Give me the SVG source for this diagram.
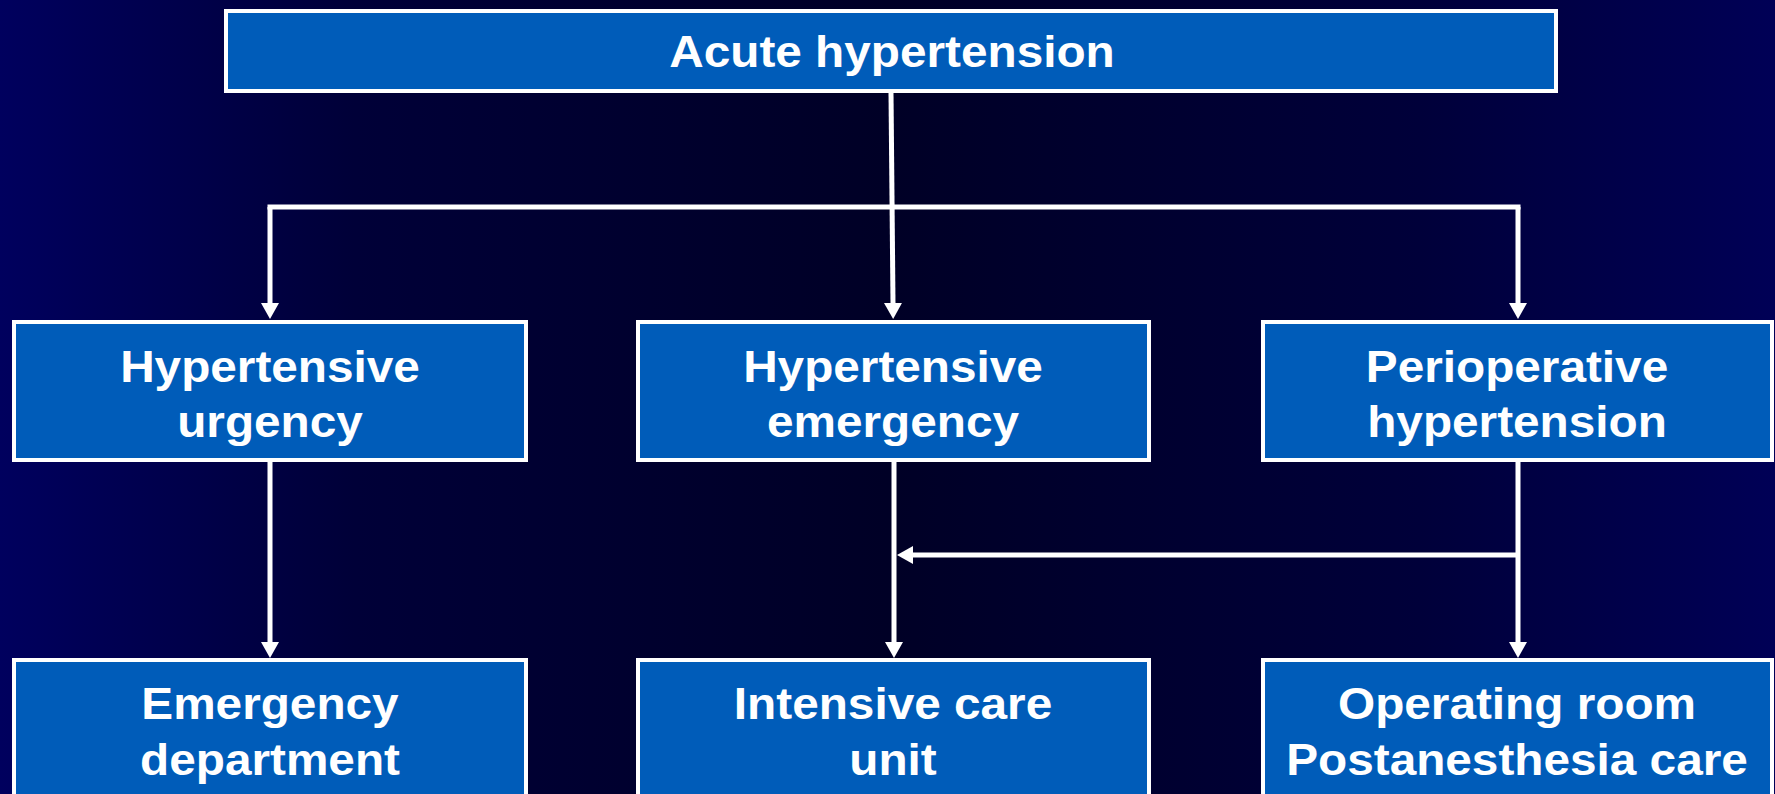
<svg xmlns="http://www.w3.org/2000/svg" width="1775" height="794" viewBox="0 0 1775 794">
<defs>
<linearGradient id="bg" x1="0" y1="0" x2="1" y2="0">
<stop offset="0" stop-color="#00005e"/>
<stop offset="0.2" stop-color="#000038"/>
<stop offset="0.5" stop-color="#000026"/>
<stop offset="0.8" stop-color="#00003a"/>
<stop offset="1" stop-color="#000056"/>
</linearGradient>
<marker id="ah" markerUnits="userSpaceOnUse" markerWidth="16" markerHeight="18" refX="0" refY="9" orient="auto">
<path d="M0,0 L16,9 L0,18 z" fill="#ffffff"/>
</marker>
<style>
.box{fill:#005cb9;stroke:#ffffff;stroke-width:4}
.t{font-family:"Liberation Sans",Arial,sans-serif;font-weight:bold;font-size:44px;fill:#ffffff;text-anchor:middle}
.c{stroke:#ffffff;stroke-width:5;fill:none}
</style>
</defs>
<rect width="1775" height="794" fill="url(#bg)"/>
<g id="connectors">
<path class="c" d="M891,93 L893,303" marker-end="url(#ah)"/>
<path class="c" d="M270,207 L1518,207" stroke-linecap="square"/>
<path class="c" d="M270,207 L270,303" marker-end="url(#ah)"/>
<path class="c" d="M1518,207 L1518,303" marker-end="url(#ah)"/>
<path class="c" d="M270,462 L270,642" marker-end="url(#ah)"/>
<path class="c" d="M894,462 L894,642" marker-end="url(#ah)"/>
<path class="c" d="M1518,462 L1518,642" marker-end="url(#ah)"/>
<path class="c" d="M1518,555 L913,555" marker-end="url(#ah)"/>
</g>
<g id="acute">
<rect class="box" x="226" y="11" width="1330" height="80"/>
<text class="t" transform="translate(892,67) scale(1.085,1)">Acute hypertension</text>
</g>
<g id="urgency">
<rect class="box" x="14" y="322" width="512" height="138"/>
<text class="t" transform="translate(270,0) scale(1.085,1)"><tspan x="0" y="382">Hypertensive</tspan><tspan x="0" y="437">urgency</tspan></text>
</g>
<g id="emergency">
<rect class="box" x="638" y="322" width="511" height="138"/>
<text class="t" transform="translate(893,0) scale(1.085,1)"><tspan x="0" y="382">Hypertensive</tspan><tspan x="0" y="437">emergency</tspan></text>
</g>
<g id="perioperative">
<rect class="box" x="1263" y="322" width="509" height="138"/>
<text class="t" transform="translate(1517,0) scale(1.085,1)"><tspan x="0" y="382">Perioperative</tspan><tspan x="0" y="437">hypertension</tspan></text>
</g>
<g id="ed">
<rect class="box" x="14" y="660" width="512" height="150"/>
<text class="t" transform="translate(270,0) scale(1.085,1)"><tspan x="0" y="719">Emergency</tspan><tspan x="0" y="775">department</tspan></text>
</g>
<g id="icu">
<rect class="box" x="638" y="660" width="511" height="150"/>
<text class="t" transform="translate(893,0) scale(1.085,1)"><tspan x="0" y="719">Intensive care</tspan><tspan x="0" y="775">unit</tspan></text>
</g>
<g id="or">
<rect class="box" x="1263" y="660" width="509" height="150"/>
<text class="t" transform="translate(1517,0) scale(1.085,1)"><tspan x="0" y="719">Operating room</tspan><tspan x="0" y="775">Postanesthesia care</tspan></text>
</g>
</svg>
